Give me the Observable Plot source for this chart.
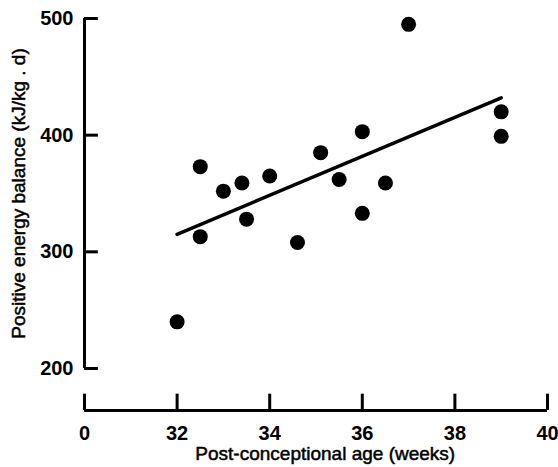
<!DOCTYPE html>
<html>
<head>
<meta charset="utf-8">
<script src="https://cdn.jsdelivr.net/npm/d3@7"></script>
<script src="https://cdn.jsdelivr.net/npm/@observablehq/plot@0.6"></script>
<style>
  html, body { margin: 0; padding: 0; background: white; }
</style>
</head>
<body>
<div id="chart"></div>
<script>
// Data
const ageWeeks = [32.0, 32.5, 32.5, 33.0, 33.4, 33.5, 34.0, 34.6, 35.1, 35.5, 36.0, 36.0, 36.5, 37.0, 39.0, 39.0];
const energyBalance = [240, 373, 313, 352, 359, 328, 365, 308, 385, 362, 403, 333, 359, 495, 420, 399];
// Fitted line end points (as drawn)
const fitX = [32, 39];
const fitY = [315, 432];
// Ticks
const xTicks = [30, 32, 34, 36, 38, 40];
const xTickLabels = ["0", "32", "34", "36", "38", "40"];
const yTicks = [200, 300, 400, 500];
const xTitle = "Post-conceptional age (weeks)";
const yTitle = "Positive energy balance (kJ/kg . d)";

const points = ageWeeks.map((x, i) => ({x, y: energyBalance[i]}));
const fit = fitX.map((x, i) => ({x, y: fitY[i]}));

const xMin = xTicks[0], xMax = xTicks[xTicks.length - 1];
const yBase = 164; // position of detached x axis line below the y axis
const yLo = yTicks[0], yHi = yTicks[yTicks.length - 1];

const chart = Plot.plot({
  width: 558,
  height: 467,
  marginLeft: 84,
  marginRight: 11,
  marginTop: 18,
  marginBottom: 57,
  x: {domain: [xMin, xMax]},
  y: {domain: [yBase, yHi]},
  style: {fontFamily: "'Liberation Sans', Arial, sans-serif", color: "black", background: "white"},
  marks: [
    // x axis line and upward ticks
    Plot.ruleY([yBase], {x1: xMin, x2: xMax, stroke: "black", strokeWidth: 3}),
    Plot.ruleX(xTicks, {y1: yBase, y2: yBase + 14, stroke: "black", strokeWidth: 3}),
    // y axis line and inward ticks
    Plot.ruleX([xMin], {y1: yLo, y2: yHi, stroke: "black", strokeWidth: 3}),
    Plot.ruleY(yTicks, {x1: xMin, x2: xMin + 0.3, stroke: "black", strokeWidth: 3}),
    Plot.axisX({ticks: xTicks, tickSize: 0, tickPadding: 15, label: null,
      tickFormat: d => xTickLabels[xTicks.indexOf(d)], fontSize: 20, fontWeight: "bold", fill: "black"}),
    Plot.axisY({ticks: yTicks, tickSize: 0, tickPadding: 11, label: null,
      fontSize: 20, fontWeight: "bold", fill: "black"}),
    // axis titles
    Plot.text([xTitle], {x: 35.2, y: yBase, dy: 43, text: d => d, fontSize: 19, textAnchor: "middle",
      fill: "black", stroke: "black", strokeWidth: 0.5}),
    Plot.text([yTitle], {x: xMin, y: (yLo + yHi) / 2, dx: -66, rotate: -90, text: d => d, fontSize: 19, textAnchor: "middle",
      fill: "black", stroke: "black", strokeWidth: 0.5}),
    // fitted line
    Plot.line(fit, {x: "x", y: "y", stroke: "black", strokeWidth: 3.5}),
    // data points
    Plot.dot(points, {x: "x", y: "y", r: 7.5, fill: "black", stroke: "none"})
  ]
});
document.getElementById("chart").appendChild(chart);
</script>
</body>
</html>
